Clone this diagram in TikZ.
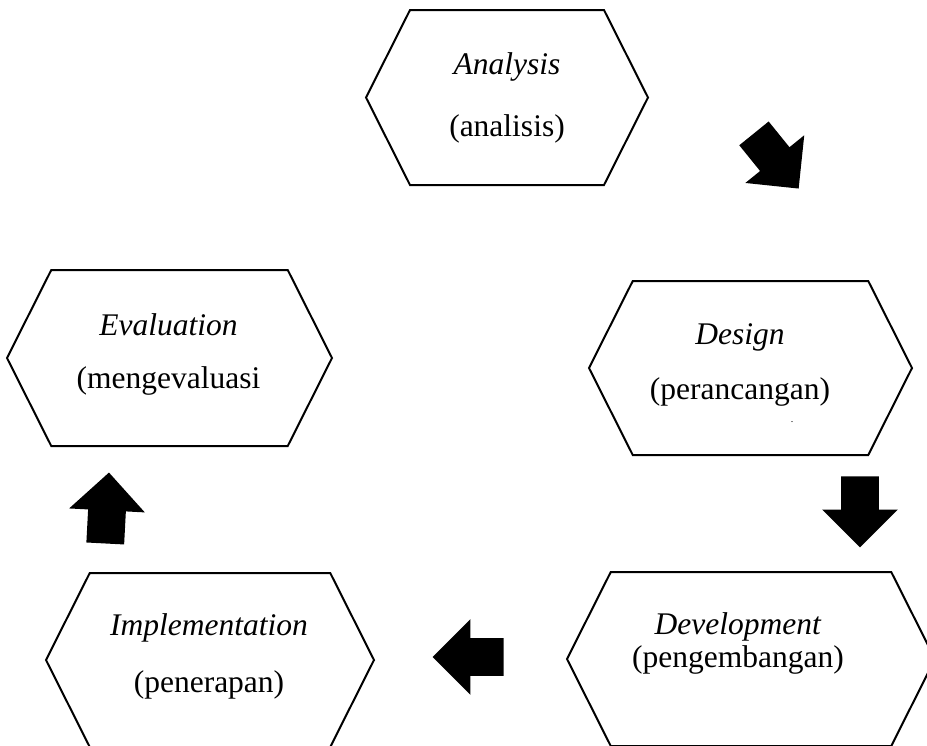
\documentclass[tikz,border=0pt]{standalone}
\usepackage{fontspec}
\setmainfont{Liberation Serif}
\usetikzlibrary{shapes.symbols, shapes.arrows}

\tikzset{
  hexa/.style={signal, signal to=west and east, signal pointer angle=126.6,
    draw, line width=1pt, inner sep=0pt, minimum height=87.5pt},
  hextext/.style={align=center, inner sep=0pt,
    font=\fontsize{15.75}{19}\selectfont},
  blockarrow/.style={single arrow, fill=black, draw=none, inner xsep=0pt,
    inner ysep=9.25pt, minimum height=35.5pt, single arrow head extend=9.5pt,
    single arrow tip angle=90, anchor=tip}
}

\begin{document}
\begin{tikzpicture}[x=0.5pt, y=-0.5pt]
\useasboundingbox (0,0) rectangle (927,745);
\clip (0,0) rectangle (927,745);
% the five stages
\node[hexa, minimum width=141pt] (analysis) at (507,97.5) {};
\node[hexa, minimum width=161.5pt, minimum height=87pt] (design) at (750.5,368) {};
\node[hexa, minimum width=184pt, minimum height=87pt] (development) at (751,659) {};
\node[hexa, minimum width=164pt, minimum height=87pt] (implementation) at (210,660) {};
\node[hexa, minimum width=162.5pt, minimum height=88pt] (evaluation) at (169.5,358) {};
\node[hextext] (analysis-txt) at (507,98) {\textit{Analysis}\\[12pt](analisis)};
\node[hextext] (design-txt) at (740,365) {\textit{Design}\\[8.5pt](perancangan)};
\node[font=\fontsize{5}{5}\selectfont, inner sep=0pt] (design-dot) at (792,422) {.};
\node[hextext] (development-txt) at (738,643.5) {\textit{Development}\\[-2.5pt](pengembangan)};
\node[hextext] (implementation-txt) at (209,656) {\textit{Implementation}\\[9.5pt](penerapan)};
\node[hextext] (evaluation-txt) at (168.5,354) {\textit{Evaluation}\\[7.5pt](mengevaluasi};
% block arrows between the stages
\node[blockarrow, rotate=-51] (arrow-ad) at (799,189) {};
\node[blockarrow, rotate=-90] (arrow-dd) at (860,548) {};
\node[blockarrow, rotate=180] (arrow-di) at (432,657) {};
\node[blockarrow, rotate=87] (arrow-ie) at (109,472) {};
\end{tikzpicture}
\end{document}
